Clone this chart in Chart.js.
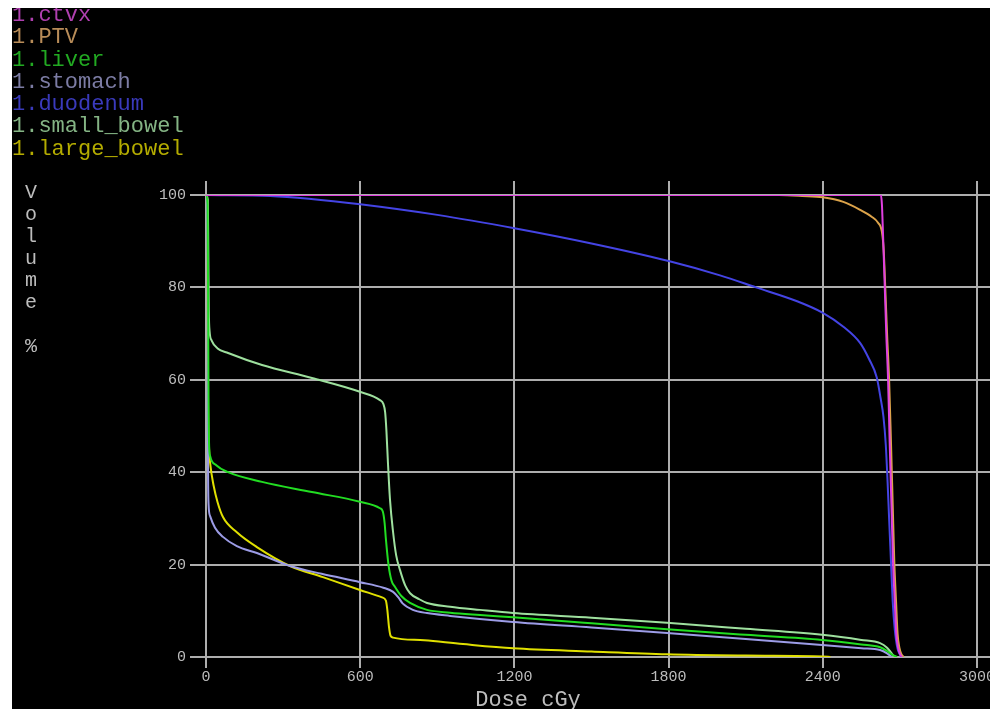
<!DOCTYPE html>
<html>
<head>
<meta charset="utf-8">
<script src="https://cdn.jsdelivr.net/npm/chart.js@4.4.1/dist/chart.umd.min.js"></script>
<style>
  html, body { margin: 0; padding: 0; background: #fff; width: 998px; height: 709px; overflow: hidden; }
  #panel { position: absolute; left: 12px; top: 8px; width: 978px; height: 701px; background: #000; overflow: hidden; }
  #chart { position: absolute; left: 0; top: 0; }
  .mono { font-family: "Liberation Mono", "DejaVu Sans Mono", monospace; position: absolute; white-space: pre; }
  #legend { left: 0; top: -3px; font-size: 22px; line-height: 22.3px; }
  #ytitle { left: 9px; top: 174px; width: 20px; text-align: center; font-size: 20px; line-height: 22px; color: #bdbdbd; }
  #xtitle { left: 416px; top: 682px; width: 200px; text-align: center; font-size: 22px; line-height: 22px; color: #bdbdbd; }
</style>
</head>
<body>
<div id="panel">
  <canvas id="chart" width="978" height="701"></canvas>
  <div id="legend" class="mono"></div>
  <div id="ytitle" class="mono">V
o
l
u
m
e

%</div>
  <div id="xtitle" class="mono">Dose cGy</div>
</div>
<script>
// structure names as they appear in the legend
var names = ['1.ctvx', '1.PTV', '1.liver', '1.stomach', '1.duodenum', '1.small_bowel', '1.large_bowel'];

// DVH curves: dose (cGy) and volume (%)
var ctvxDose = [0, 2626, 2630, 2634, 2640, 2647, 2654, 2660, 2667, 2673, 2680, 2686, 2693, 2700, 2708];
var ctvxVol  = [100, 100, 98, 92, 82, 70, 60, 47, 33, 21, 12, 5, 2, 0.7, 0];

var ptvDose = [0, 2230, 2320, 2400, 2480, 2545, 2590, 2615, 2630, 2637, 2643, 2650, 2658, 2665, 2672, 2678, 2685, 2691, 2698, 2706, 2715];
var ptvVol  = [100, 100, 99.8, 99.5, 98.5, 96.8, 95.3, 94, 92, 88, 80, 70, 60, 47, 33, 21, 12, 5, 2, 0.6, 0];

var liverDose = [0, 6, 8, 10, 12, 16, 40, 86, 218, 412, 599, 677, 688, 695, 700, 710, 722, 735, 760, 794, 860, 950, 1066, 1195, 1500, 1794, 2100, 2397, 2550, 2623, 2650, 2670, 2689];
var liverVol  = [100, 98, 80, 55, 46, 43.5, 41.5, 40, 37.9, 35.7, 33.6, 32.2, 31.5, 29, 25.5, 20, 16.5, 15.2, 13.2, 11.7, 10.2, 9.6, 9.1, 8.6, 7.3, 6.0, 4.8, 3.7, 2.7, 2.1, 1.3, 0.5, 0];

var stomachDose = [0, 4, 6, 8, 10, 16, 35, 66, 120, 198, 327, 450, 599, 690, 728, 750, 765, 805, 860, 950, 1195, 1500, 1794, 2100, 2397, 2550, 2623, 2650, 2669];
var stomachVol  = [100, 98, 70, 40, 33, 30.5, 28, 26, 24, 22.5, 19.7, 18, 16.2, 15, 14.1, 12.8, 11.6, 10.2, 9.5, 8.9, 7.6, 6.4, 5.2, 3.9, 2.6, 1.9, 1.5, 0.8, 0];

var duodenumDose = [0, 250, 400, 600, 900, 1200, 1500, 1800, 2000, 2140, 2300, 2400, 2480, 2545, 2580, 2610, 2625, 2636, 2645, 2652, 2658, 2665, 2672, 2680, 2690, 2700, 2706];
var duodenumVol  = [100, 99.8, 99.2, 98, 95.7, 92.8, 89.5, 85.7, 82.6, 80, 77, 74.5, 71.5, 68, 64.5, 60.5, 56, 52, 46, 38, 30, 21, 12, 6, 2, 0.5, 0];

var smallBowelDose = [0, 7, 9, 11, 14, 22, 45, 86, 218, 412, 599, 677, 690, 697, 702, 708, 716, 728, 740, 755, 775, 794, 830, 860, 950, 1066, 1195, 1500, 1794, 2100, 2397, 2550, 2623, 2650, 2665, 2675, 2680];
var smallBowelVol  = [100, 99, 88, 75, 70.5, 68.5, 66.8, 65.8, 63.2, 60.4, 57.4, 55.6, 54.8, 53, 49, 42, 34, 27, 22, 18.8, 15.5, 13.8, 12.5, 11.7, 10.9, 10.2, 9.5, 8.5, 7.4, 6.1, 4.8, 3.7, 3.0, 2.0, 1.0, 0.3, 0];

var largeBowelDose = [0, 5, 8, 12, 16, 30, 45, 66, 120, 198, 327, 455, 599, 685, 700, 706, 712, 718, 728, 850, 1000, 1195, 1500, 1794, 2100, 2400, 2430];
var largeBowelVol  = [100, 80, 55, 45, 42, 37, 33.5, 30.3, 27, 23.8, 19.7, 17.3, 14.5, 12.9, 12.2, 10, 6.5, 4.6, 4.2, 3.6, 2.8, 1.9, 1.2, 0.6, 0.3, 0.1, 0];

var doseTicks = [0, 600, 1200, 1800, 2400, 3000];
var volumeTicks = [0, 20, 40, 60, 80, 100];

var allDose = [ctvxDose, ptvDose, liverDose, stomachDose, duodenumDose, smallBowelDose, largeBowelDose];
var allVol = [ctvxVol, ptvVol, liverVol, stomachVol, duodenumVol, smallBowelVol, largeBowelVol];

// styles
var lineColors = ['#e040e0', '#dca34a', '#22dd22', '#9c9ce6', '#4444e4', '#9ee09e', '#e0e000'];
var textColors = ['#b040b0', '#b88c58', '#22aa22', '#7c7ca4', '#3a3abc', '#84b484', '#b4ac00'];
var gridColor = '#adadad';
var tickColor = '#bdbdbd';
var monoFont = 'Liberation Mono';

// legend text
var legendEl = document.getElementById('legend');
names.forEach(function(name, i) {
  var row = document.createElement('div');
  row.textContent = name;
  row.style.color = textColors[i];
  legendEl.appendChild(row);
});

function toPoints(d, v) {
  return d.map(function(x, i) { return { x: x, y: v[i] }; });
}

var datasets = names.map(function(name, i) {
  return {
    label: name,
    data: toPoints(allDose[i], allVol[i]),
    borderColor: lineColors[i],
    borderWidth: 2,
    pointRadius: 0,
    fill: false,
    cubicInterpolationMode: 'monotone'
  };
});

function fixedTicks(list) {
  return function(s) { s.ticks = list.map(function(v) { return { value: v }; }); };
}
function plainLabel(v) { return String(v); }

var ctx = document.getElementById('chart').getContext('2d');
new Chart(ctx, {
  type: 'line',
  data: { datasets: datasets },
  options: {
    responsive: false,
    devicePixelRatio: 1,
    animation: false,
    layout: { padding: 0 },
    plugins: { legend: { display: false }, tooltip: { enabled: false } },
    scales: {
      x: {
        type: 'linear', position: 'bottom',
        min: 0, max: 3000,
        afterBuildTicks: fixedTicks(doseTicks),
        ticks: { color: tickColor, font: { family: monoFont, size: 15 }, padding: 0, maxRotation: 0, callback: plainLabel },
        grid: { color: gridColor, lineWidth: 2, tickLength: 11 },
        border: { display: false },
        afterFit: function(s) { s.height = 52; s.paddingLeft = 0; s.paddingRight = 0; }
      },
      x2: {
        type: 'linear', position: 'top', axis: 'x',
        min: 0, max: 3000,
        afterBuildTicks: fixedTicks(doseTicks),
        ticks: { display: false },
        grid: { color: gridColor, lineWidth: 2, tickLength: 14, drawOnChartArea: false },
        border: { display: false },
        afterFit: function(s) { s.height = 187; s.paddingLeft = 0; s.paddingRight = 0; }
      },
      y: {
        type: 'linear', position: 'left',
        min: 0, max: 100,
        afterBuildTicks: fixedTicks(volumeTicks),
        ticks: { color: tickColor, font: { family: monoFont, size: 15 }, padding: 4, callback: plainLabel },
        grid: { color: gridColor, lineWidth: 2, tickLength: 16 },
        border: { display: false },
        afterFit: function(s) { s.width = 194; s.paddingTop = 0; s.paddingBottom = 0; }
      },
      y2: {
        type: 'linear', position: 'right', axis: 'y',
        min: 0, max: 100,
        afterBuildTicks: fixedTicks(volumeTicks),
        ticks: { display: false },
        grid: { color: gridColor, lineWidth: 2, tickLength: 13, drawOnChartArea: false },
        border: { display: false },
        afterFit: function(s) { s.width = 13; s.paddingTop = 0; s.paddingBottom = 0; }
      }
    }
  }
});
</script>
</body>
</html>
